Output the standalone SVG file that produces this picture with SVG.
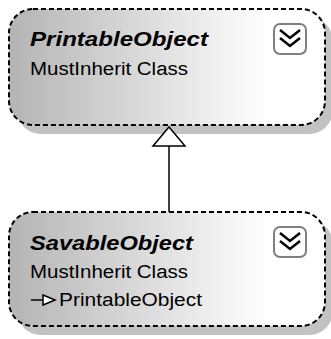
<svg xmlns="http://www.w3.org/2000/svg" width="331" height="339" viewBox="0 0 331 339">
<defs>
<linearGradient id="g" x1="0" y1="0" x2="1" y2="0">
<stop offset="0" stop-color="#b4b4b4"/>
<stop offset="0.82" stop-color="#ffffff"/>
<stop offset="1" stop-color="#ffffff"/>
</linearGradient>
</defs>
<style>
.shadow{fill:#c2c2c2}
.box{fill:url(#g);stroke:#000;stroke-width:2;stroke-dasharray:5 3}
.title{font-family:"Liberation Sans",Arial,sans-serif;font-weight:bold;font-style:italic;font-size:21px;fill:#000}
.sub{font-family:"Liberation Sans",Arial,sans-serif;font-size:18px;fill:#000}
.btn{fill:#fff;stroke:#7f7f7f;stroke-width:2}
.chev{fill:none;stroke:#000;stroke-width:2.5}
.conn{fill:none;stroke:#000;stroke-width:1.5}
.tri{fill:#fff;stroke:#000;stroke-width:1.5}
</style>
<g id="PrintableObject">
<rect class="shadow" x="17" y="17" width="316" height="117" rx="24"/>
<rect class="box" x="9" y="9" width="316" height="116" rx="24"/>
<text class="title" x="30" y="46" textLength="178" lengthAdjust="spacingAndGlyphs">PrintableObject</text>
<text class="sub" x="30" y="75" textLength="158" lengthAdjust="spacingAndGlyphs">MustInherit Class</text>
<rect class="btn" x="274" y="24" width="32" height="30" rx="6"/>
<path class="chev" d="M280 30 L290 38 L300 30 M280 38 L290 46 L300 38"/>
</g>
<g id="SavableObject">
<rect class="shadow" x="17" y="220" width="316" height="115" rx="24"/>
<rect class="box" x="9" y="212" width="316" height="114" rx="24"/>
<text class="title" x="30" y="250" textLength="163" lengthAdjust="spacingAndGlyphs">SavableObject</text>
<text class="sub" x="30" y="278" textLength="158" lengthAdjust="spacingAndGlyphs">MustInherit Class</text>
<path class="conn" d="M31 300 L43 300"/>
<path class="tri" d="M43 295 L55 300 L43 305 Z"/>
<text class="sub" x="59" y="306" textLength="143" lengthAdjust="spacingAndGlyphs">PrintableObject</text>
<rect class="btn" x="274" y="227" width="32" height="30" rx="6"/>
<path class="chev" d="M280 233 L290 241 L300 233 M280 241 L290 249 L300 241"/>
</g>
<g id="connectors">
<path class="conn" d="M169 212 L169 146"/>
<path class="tri" d="M169 127 L185 146 L153 146 Z"/>
</g>
</svg>
